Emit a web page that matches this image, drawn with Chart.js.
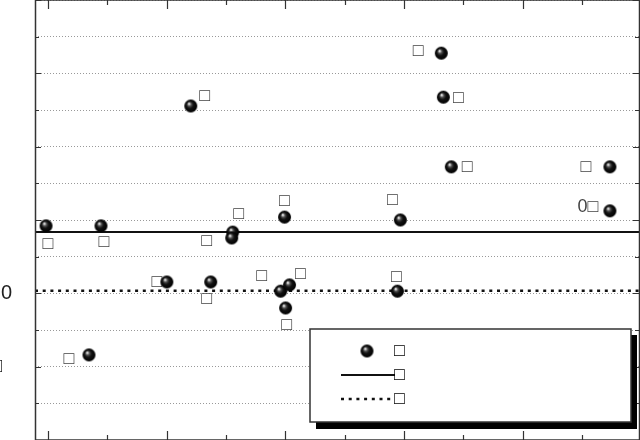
<!DOCTYPE html>
<html>
<head>
<meta charset="utf-8">
<script src="https://cdn.jsdelivr.net/npm/chart.js@4.4.1/dist/chart.umd.min.js"></script>
<style>
  body { margin: 0; background: #fff; }
  #wrap { width: 640px; height: 440px; position: relative; }
</style>
</head>
<body>
<div id="wrap"><canvas id="chart"></canvas></div>
<script>
// data
const xVals = [-0.17, 4.46, 12.03, 15.56, 15.48, 19.93, 29.69, 33.14, 33.31, 33.98, 47.35, 47.35, 10.01, 13.71, 19.6, 20.35, 20.02, 29.44, 3.45];
const yVals = [29.2, 29.2, 45.55, 28.35, 27.55, 30.4, 30.0, 52.75, 46.75, 37.25, 37.25, 31.25, 21.55, 21.55, 20.3, 21.15, 18.0, 20.3, 11.6];
const pointNames = ['□', '□', '□', '□', '□', '□', '□', '□', '□', '□', '□', '0□', '□', '□', '□', '□', '□', '□', '□'];
const seriesNames = ['□', '□', '□'];
const solidLineY = 28.35;
const dottedLineY = 20.35;
const yTickValues = [10, 20];
const yTickText = ['□\u2002', '20'];
const xTickValues = [0, 5, 10, 15, 20, 25, 30, 35, 40, 45];

// label placement next to each point (pixels)
const labelDx = [2, 3, 14, 6, -25, 0, -8, -23, 15, 16, -24, -22, -10, -4, -19, 11, 1, -1, -20];
const labelDy = [18, 16, -10, -18, 3, -16, -20, -2, 1, 0, 0, -4, 0, 17, -15, -11, 17, -14, 4];

const xMin = -1.1, xMax = 49.8;

//3d ball used as point style
function makeBall(r) {
  let c = document.createElement('canvas');
  let s = Math.ceil(r * 2) + 2;
  c.width = s; c.height = s;
  let g = c.getContext('2d');
  let cx = s / 2, cy = s / 2;
  let grad = g.createRadialGradient(cx - 2, cy - 2.5, 0, cx, cy, r);
  grad.addColorStop(0, '#ffffff');
  grad.addColorStop(0.12, '#d0d0d0');
  grad.addColorStop(0.3, '#505050');
  grad.addColorStop(0.55, '#111111');
  grad.addColorStop(1, '#000000');
  g.fillStyle = grad;
  g.beginPath();
  g.arc(cx, cy, r, 0, Math.PI * 2);
  g.fill();
  return c;
}
const ball = makeBall(6.5);

const points = xVals.map((x, i) => ({x: x, y: yVals[i]}));

//frame, inward ticks, point labels and legend
const decor = {
  id: 'decor',
  beforeDatasetsDraw(chart) {
    const ctx = chart.ctx;
    const xs = chart.scales.x, ys = chart.scales.y;
    ctx.save();
    ctx.font = '18px "Liberation Sans", "DejaVu Sans", sans-serif';
    ctx.fillStyle = '#444';
    ctx.textAlign = 'center';
    ctx.textBaseline = 'middle';
    points.forEach((p, i) => {
      let px = xs.getPixelForValue(p.x) + labelDx[i];
      let py = ys.getPixelForValue(p.y) + labelDy[i];
      ctx.fillText(pointNames[i], px, py);
    });
    ctx.restore();
  },
  afterDraw(chart) {
    const ctx = chart.ctx;
    const a = chart.chartArea;
    const xs = chart.scales.x, ys = chart.scales.y;
    ctx.save();
    ctx.strokeStyle = '#333';
    ctx.lineWidth = 1.2;
    ctx.setLineDash([]);
    ctx.beginPath();
    xTickValues.forEach(v => {
      let px = Math.round(xs.getPixelForValue(v)) + 0.5;
      let len = v % 10 === 0 ? 9 : 5;
      ctx.moveTo(px, a.bottom); ctx.lineTo(px, a.bottom - len);
      ctx.moveTo(px, a.top); ctx.lineTo(px, a.top + len);
    });
    for (let v = 0; v <= 60; v += 5) {
      let py = Math.round(ys.getPixelForValue(v)) + 0.5;
      let len = v % 10 === 0 ? 6 : 4;
      ctx.moveTo(a.left, py); ctx.lineTo(a.left + len, py);
      ctx.moveTo(a.right, py); ctx.lineTo(a.right - len, py);
    }
    ctx.stroke();
    ctx.lineWidth = 1.5;
    ctx.strokeRect(a.left + 0.5, a.top, a.right - a.left, a.bottom - a.top);

    //legend box with shadow
    let bx = a.right - 329, by = a.bottom - 111, bw = 321, bh = 93;
    ctx.fillStyle = '#000';
    ctx.fillRect(bx + 6, by + 6, bw, bh + 1);
    ctx.fillStyle = '#fff';
    ctx.fillRect(bx, by, bw, bh);
    ctx.strokeStyle = '#333';
    ctx.lineWidth = 1.5;
    ctx.strokeRect(bx, by, bw, bh);

    let rowY = [by + 22, by + 46, by + 70];
    ctx.drawImage(ball, bx + 57 - ball.width / 2, rowY[0] - ball.height / 2);
    ctx.strokeStyle = '#111';
    ctx.lineWidth = 2;
    ctx.beginPath();
    ctx.moveTo(bx + 31, rowY[1]); ctx.lineTo(bx + 85, rowY[1]);
    ctx.stroke();
    ctx.lineWidth = 2.5;
    ctx.setLineDash([3, 4.7]);
    ctx.beginPath();
    ctx.moveTo(bx + 31, rowY[2]); ctx.lineTo(bx + 82, rowY[2]);
    ctx.stroke();
    ctx.setLineDash([]);
    ctx.font = 'bold 18px "Liberation Sans", "DejaVu Sans", sans-serif';
    ctx.fillStyle = '#000';
    ctx.textAlign = 'left';
    ctx.textBaseline = 'middle';
    chart.data.datasets.forEach((d, i) => {
      ctx.fillText(d.label, bx + 84, rowY[i]);
    });
    ctx.restore();
  }
};

new Chart(document.getElementById('chart'), {
  type: 'scatter',
  data: {
    datasets: [
      {
        label: seriesNames[0],
        data: points,
        pointStyle: ball,
        pointRadius: 7,
        pointHoverRadius: 7,
        order: 0
      },
      {
        type: 'line',
        label: seriesNames[1],
        data: [{x: xMin, y: solidLineY}, {x: xMax, y: solidLineY}],
        borderColor: '#111',
        borderWidth: 2,
        pointRadius: 0,
        order: 1
      },
      {
        type: 'line',
        label: seriesNames[2],
        data: [{x: xMin, y: dottedLineY}, {x: xMax, y: dottedLineY}],
        borderColor: '#111',
        borderWidth: 2.5,
        borderDash: [3, 4.7],
        pointRadius: 0,
        order: 2
      }
    ]
  },
  options: {
    responsive: true,
    maintainAspectRatio: false,
    animation: false,
    layout: { autoPadding: false, padding: { top: 0, right: 1, bottom: 0, left: 0 } },
    scales: {
      x: {
        type: 'linear',
        min: xMin,
        max: xMax,
        display: false
      },
      y: {
        min: 0,
        max: 60,
        ticks: {
          stepSize: 5,
          padding: 23,
          color: '#222',
          font: { family: '"Liberation Sans", "DejaVu Sans", sans-serif', size: 20 },
          callback: function (v) {
            let k = yTickValues.indexOf(v);
            return k >= 0 ? yTickText[k] : '';
          }
        },
        grid: {
          color: '#999',
          lineWidth: 1,
          drawTicks: false
        },
        border: { display: false, dash: [1, 2] },
        afterFit: function (scale) {
          scale.width = 35;
          scale.paddingTop = 0;
          scale.paddingBottom = 0;
        }
      }
    },
    plugins: {
      legend: { display: false },
      tooltip: { enabled: false }
    }
  },
  plugins: [decor]
});
</script>
</body>
</html>
